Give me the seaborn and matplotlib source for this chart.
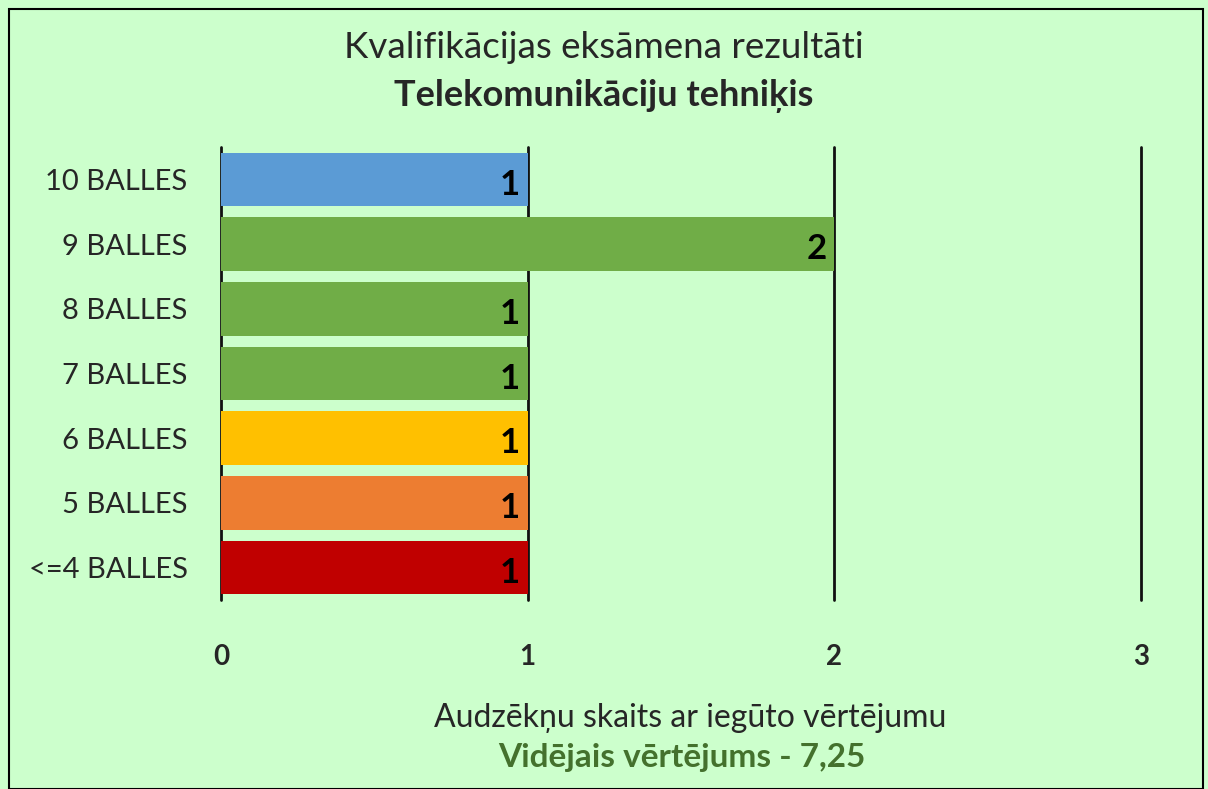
import matplotlib.pyplot as plt
import matplotlib.patches as mpatches
import pandas as pd
import seaborn as sns

kategorijas = ["10 BALLES", "9 BALLES", "8 BALLES", "7 BALLES", "6 BALLES", "5 BALLES", "<=4 BALLES"]
skaits = [1, 2, 1, 1, 1, 1, 1]
krasas = ["#5B9BD5", "#70AD47", "#70AD47", "#70AD47", "#FFC000", "#ED7D31", "#C00000"]
x_ticki = [0, 1, 2, 3]

fons = "#CCFFCC"
sns.set_style("white")
plt.rcParams['font.family'] = ['Lato', 'DejaVu Sans']

df = pd.DataFrame({"kat": kategorijas, "sk": skaits})

fig = plt.figure(figsize=(12.08, 7.89), dpi=100, facecolor=fons)
ax = fig.add_axes([221 / 1208, 1 - 600 / 789, 920 / 1208, 453 / 789])
ax.set_facecolor(fons)

sns.barplot(data=df, x="sk", y="kat", hue="kat", palette=krasas, orient="h",
            width=0.83, legend=False, ax=ax, zorder=3, saturation=1,
            edgecolor="none", linewidth=0)

for xv in x_ticki:
    ax.axvline(xv, color="#111111", lw=2, zorder=1, clip_on=False)

for i, v in enumerate(skaits):
    ax.text(v - 0.025, i + 0.08, str(v), ha="right", va="center",
            fontsize=25, fontweight="bold", color="black", zorder=4)

ax.set_xlim(0, 3)
ax.set_ylim(6.5, -0.5)
ax.set_xticks(x_ticki)
ax.set_xticklabels([str(t) for t in x_ticki], fontsize=20, fontweight="bold")
ax.tick_params(axis="x", length=0, pad=32)
ax.tick_params(axis="y", length=0, pad=24, labelsize=21)
for s in ax.spines.values():
    s.set_visible(False)
ax.set_xlabel("")
ax.set_ylabel("")

fig.text(0.5, 1 - 48 / 789, "Kvalifikācijas eksāmena rezultāti", ha="center", va="center", fontsize=26.5)
fig.text(0.5, 1 - 96 / 789, "Telekomunikāciju tehniķis", ha="center", va="center",
         fontsize=26, fontweight="bold")
fig.text(690 / 1208, 1 - 718 / 789, "Audzēkņu skaits ar iegūto vērtējumu", ha="center", va="center", fontsize=23)
fig.text(682 / 1208, 1 - 757 / 789, "Vidējais vērtējums - 7,25", ha="center", va="center",
         fontsize=24, fontweight="bold", color="#44712D")

fig.patches.append(mpatches.Rectangle((9 / 1208, 0), 1194 / 1208, 1 - 9 / 789, transform=fig.transFigure,
                                      fill=False, edgecolor="black", lw=1.5))

fig.savefig("out.png", dpi=100, facecolor=fons)
